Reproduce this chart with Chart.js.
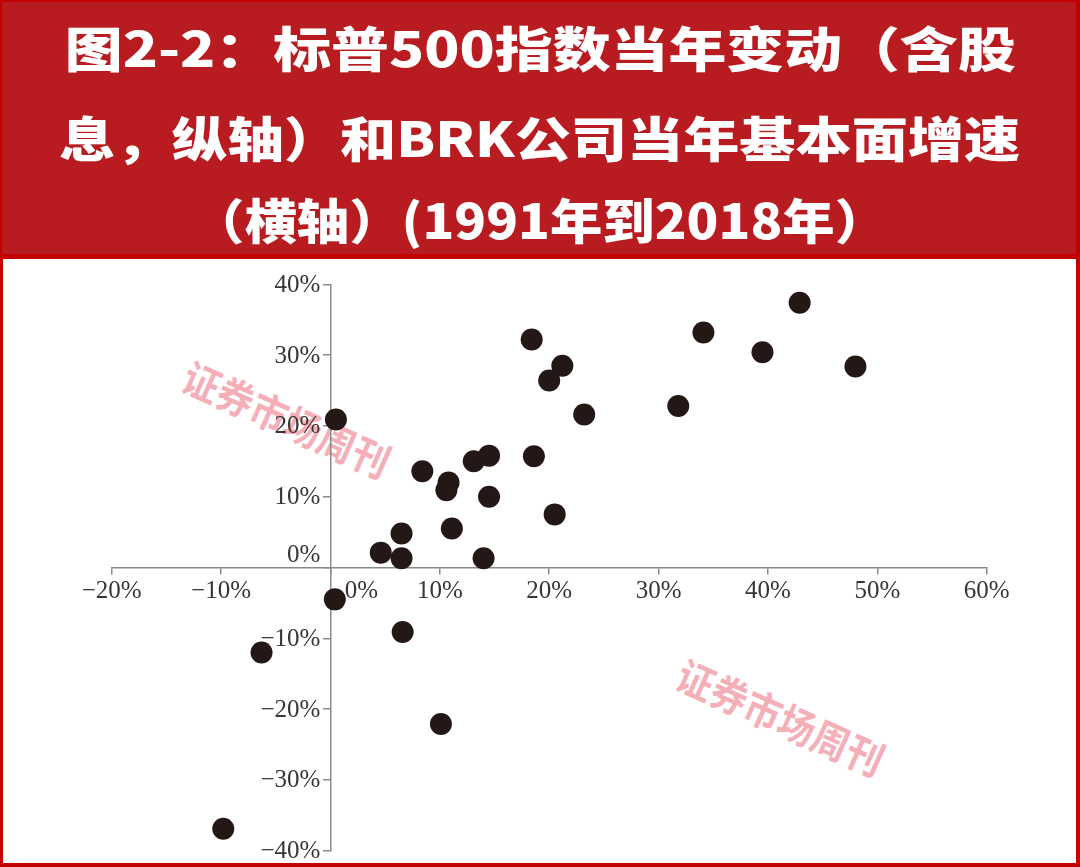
<!DOCTYPE html>
<html>
<head>
<meta charset="utf-8">
<script src="https://cdn.jsdelivr.net/npm/chart.js@4.4.1/dist/chart.umd.min.js"></script>
<style>
  html, body { margin: 0; padding: 0; }
  body { width: 1080px; height: 867px; background: #c40000; position: relative; overflow: hidden; }
  #banner { position: absolute; left: 2px; top: 2px; width: 1074px; height: 252px; background: #b81c21; }
  .tline { position: absolute; left: 0; width: 1080px; text-align: center; white-space: nowrap;
           font-family: "Noto Sans CJK SC", sans-serif; font-weight: 900; font-size: 48px; color: #fff; line-height: 1; }
  .tline span { display: inline-block; transform-origin: center center; }
  #plot { position: absolute; left: 3px; top: 259px; width: 1073px; height: 604px; background: #fff; }
  .wm { position: absolute; font-family: "Noto Sans CJK SC", serif; font-weight: 700; font-size: 37px;
        color: rgba(240, 145, 158, 0.72); white-space: nowrap; transform-origin: center center; line-height: 1; }
  #cv { position: absolute; left: 0; top: 259px; }
</style>
</head>
<body>
<div id="banner"></div>
<div class="tline" id="t1" style="top:22px"><span>图2-2：标普500指数当年变动（含股</span></div>
<div class="tline" id="t2" style="top:112px"><span>息，纵轴）和BRK公司当年基本面增速</span></div>
<div class="tline" id="t3" style="top:194px"><span>（横轴）(1991年到2018年）</span></div>
<div id="plot"></div>
<div class="wm" id="wm1">证券市场周刊</div>
<div class="wm" id="wm2">证券市场周刊</div>
<canvas id="cv" width="1080" height="605" style="width:1080px;height:605px"></canvas>
<script>
// BRK fundamental growth (x, %) and S&P 500 annual change incl. dividends (y, %), 1991-2018
const brkGrowth = [0.5, 18.4, 20.0, 21.2, 8.4, 10.8, 10.6, 13.1, 14.5, 18.6, 14.5, 20.5, 11.1, 6.5,
                   4.6, 6.5, 14.0, 42.9, 34.1, 39.5, 48.0, 23.2, 31.8, 0.4, 6.6, -6.3, 10.1, -9.8];
const spReturn  = [20.9, 32.2, 26.4, 28.5, 13.6, 12.0, 10.9, 15.0, 15.8, 15.7, 10.0, 7.5, 5.5, 4.8,
                   2.1, 1.3, 1.3, 37.4, 33.2, 30.4, 28.4, 21.6, 22.8, -4.5, -9.1, -12.0, -22.1, -36.9];
const xTicks = [-20, -10, 0, 10, 20, 30, 40, 50, 60];
const yTicks = [-40, -30, -20, -10, 0, 10, 20, 30, 40];
const watermark = "证券市场周刊";

// title fitting
const targets = { t1: [65, 1016], t2: [58, 1019], t3: [193, 888] };
function fitTitles() {
  for (const id in targets) {
    const sp = document.querySelector('#' + id + ' span');
    sp.style.transform = 'none';
    const w = sp.getBoundingClientRect().width;
    const [a, b] = targets[id];
    const s = (b - a) / w;
    sp.style.transform = 'scaleX(' + s.toFixed(4) + ')';
  }
}
fitTitles();
if (document.fonts && document.fonts.ready) document.fonts.ready.then(fitTitles);

function placeWm(el, cx, cy, ang) {
  const r = el.getBoundingClientRect();
  el.style.left = (cx - r.width / 2) + 'px';
  el.style.top = (cy - r.height / 2) + 'px';
  el.style.transform = 'rotate(' + ang + 'deg) scaleY(1.1)';
}
const wm1 = document.getElementById('wm1'), wm2 = document.getElementById('wm2');
wm1.textContent = watermark; wm2.textContent = watermark;
placeWm(wm1, 287, 418, 24);
placeWm(wm2, 781, 716, 24);

const points = brkGrowth.map((x, i) => ({ x: x, y: spReturn[i] }));
const axisColor = '#8a8a8a';
const labelFont = { family: '"Liberation Serif", "Times New Roman", serif', size: 25 };
const labelColor = '#3a3534';
const fmt = (v) => (v < 0 ? '\u2212' + Math.abs(v) : v) + '%';

// y-axis labels (drawn left of the centred axis) and the two offset "0%" labels
const axisLabels = {
  id: 'axisLabels',
  afterDraw(chart) {
    const ctx = chart.ctx;
    const xs = chart.scales.x, ys = chart.scales.y;
    const x0 = xs.getPixelForValue(0), y0 = ys.getPixelForValue(0);
    ctx.save();
    ctx.font = labelFont.size + 'px ' + labelFont.family;
    ctx.fillStyle = labelColor;
    ctx.textBaseline = 'middle';
    ctx.textAlign = 'right';
    yTicks.forEach(v => {
      if (v === 0) return;
      ctx.fillText(fmt(v), x0 - 10, ys.getPixelForValue(v) + 1);
    });
    ctx.fillText('0%', x0 - 10, y0 - 12);
    ctx.textAlign = 'center';
    ctx.fillText('0%', x0 + 31, y0 + 24);
    ctx.restore();
  }
};

new Chart(document.getElementById('cv'), {
  type: 'scatter',
  data: {
    datasets: [{
      data: points,
      backgroundColor: '#231815',
      borderColor: '#231815',
      borderWidth: 0,
      pointRadius: 11,
      pointHoverRadius: 11
    }]
  },
  options: {
    responsive: false,
    animation: false,
    events: [],
    layout: { padding: { left: 111.7, right: 93.3, top: 25.3, bottom: 13.3 } },
    plugins: { legend: { display: false }, tooltip: { enabled: false }, title: { display: false } },
    scales: {
      x: {
        type: 'linear',
        position: { y: 0 },
        min: -20, max: 60,
        afterFit: (s) => { s.height = 0; },
        afterBuildTicks: (s) => { s.ticks = xTicks.map(v => ({ value: v })); },
        border: { display: true, color: axisColor, width: 1.5 },
        grid: { drawOnChartArea: false, drawTicks: true, tickLength: 6, color: axisColor, lineWidth: 1.5 },
        ticks: {
          font: labelFont, color: labelColor, padding: 3, maxRotation: 0, autoSkip: false,
          callback: (v) => v === 0 ? '' : fmt(v)
        }
      },
      y: {
        type: 'linear',
        position: { x: 0 },
        min: -40, max: 40,
        afterFit: (s) => { s.width = 0; },
        afterBuildTicks: (s) => { s.ticks = yTicks.map(v => ({ value: v })); },
        border: { display: true, color: axisColor, width: 1.5 },
        grid: { drawOnChartArea: false, drawTicks: true, tickLength: 7, color: axisColor, lineWidth: 1.5 },
        ticks: { display: false, font: labelFont, color: labelColor }
      }
    }
  },
  plugins: [axisLabels]
});
</script>
</body>
</html>
